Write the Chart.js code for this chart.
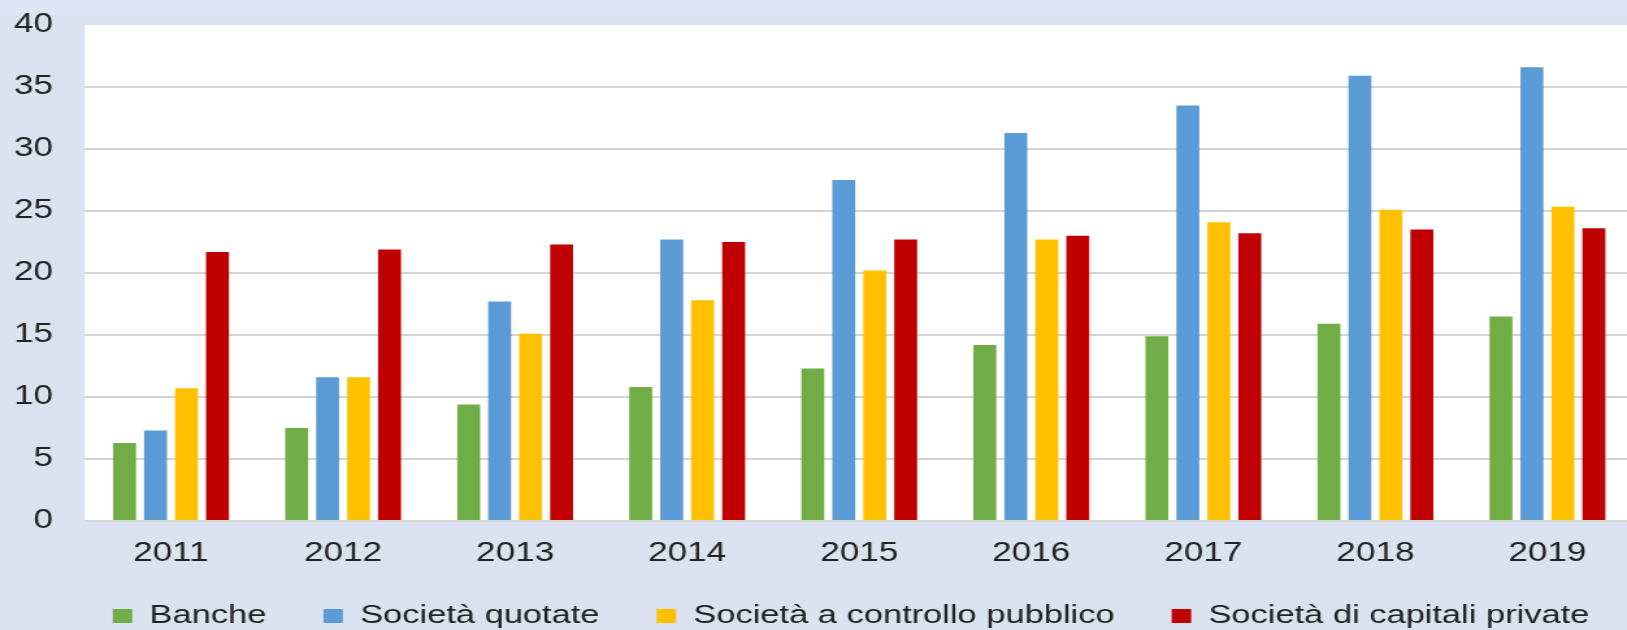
<!DOCTYPE html>
<html><head><meta charset="utf-8">
<script src="https://cdn.jsdelivr.net/npm/chart.js@4/dist/chart.umd.min.js"></script>
<style>
html,body{margin:0;padding:0;background:#dae2f0;overflow:hidden;width:1627px;height:630px;}
#wrap{width:1257px;height:630px;transform:scaleX(1.2995);transform-origin:0 0;}
canvas{display:block;}
</style></head><body>
<div id="wrap"><canvas id="c" width="1257" height="630"></canvas></div>
<script>
const years = ['2011','2012','2013','2014','2015','2016','2017','2018','2019'];
const banche = [6.3, 7.5, 9.4, 10.8, 12.3, 14.2, 14.9, 15.9, 16.5];
const quotate = [7.3, 11.6, 17.7, 22.7, 27.5, 31.3, 33.5, 35.9, 36.6];
const pubblico = [10.7, 11.6, 15.1, 17.8, 20.2, 22.7, 24.1, 25.1, 25.35];
const private_ = [21.7, 21.9, 22.3, 22.5, 22.7, 23.0, 23.2, 23.5, 23.6];
const seriesNames = ['Banche','Società quotate','Società a controllo pubblico','Società di capitali private'];
const colors = ['#70ad47','#5b9bd5','#ffc000','#c00000'];
const yTicks = [0,5,10,15,20,25,30,35,40];

const FONT = '"Liberation Sans", Arial, sans-serif';

const bgPlugin = {
  id:'bg',
  beforeDraw(chart){
    const {ctx, chartArea:a, width, height} = chart;
    ctx.save();
    ctx.fillStyle = '#dae2f0';
    ctx.fillRect(0,0,width,height);
    ctx.fillStyle = '#dfe3f4';
    ctx.fillRect(0,0,width,16);
    ctx.fillStyle = '#ffffff';
    ctx.fillRect(a.left, a.top, width - a.left, a.bottom - a.top);
    ctx.restore();
  }
};
const legendFix = {
  id:'legendFix',
  beforeLayout(chart){
    const lg = chart.legend;
    if (lg && !lg._patched){
      const f = lg.fit.bind(lg);
      lg.fit = function(){ f(); this.height = 60.8; };
      lg._patched = true;
    }
  },
  afterLayout(chart){
    const lg = chart.legend;
    if (lg){
      lg.left += 21; lg.right += 21;
      lg.top = 558.75; lg.bottom = 630; lg.height = lg.bottom - lg.top;
    }
  }
};

const datasets = [banche, quotate, pubblico, private_].map((d,i)=>({
  label: seriesNames[i], data: d, backgroundColor: colors[i], borderWidth: 0,
  categoryPercentage: 0.72, barPercentage: 0.74
}));

new Chart(document.getElementById('c'), {
  type:'bar',
  data:{ labels: years, datasets },
  plugins:[bgPlugin, legendFix],
  options:{
    responsive:false, animation:false, devicePixelRatio:1,
    layout:{ padding:{ left:10.8, top:25, right:0, bottom:0 } },
    plugins:{
      tooltip:{enabled:false},
      legend:{
        position:'bottom',
        labels:{ boxWidth:15, boxHeight:14, padding:44, color:'#222',
          font:{ family:FONT, size:26.5 } }
      }
    },
    scales:{
      x:{
        grid:{ display:false }, border:{ display:false },
        ticks:{ color:'#222', padding:8.8, font:{ family:FONT, size:27 } },
        afterFit(s){ s.paddingLeft = 0; s.paddingRight = 0; s.height = 48.2; }
      },
      y:{
        min:0, max:40,
        afterBuildTicks(scale){ scale.ticks = yTicks.map(v=>({value:v})); },
        grid:{ drawTicks:false, lineWidth:2,
          color:(c)=> c.tick && c.tick.value===40 ? 'rgba(0,0,0,0)' : '#d4d4d4' },
        border:{ display:false },
        ticks:{ color:'#222', padding:24.6, font:{ family:FONT, size:27 } },
        afterFit(s){ s.paddingTop = 0; s.paddingBottom = 0; s.width = 54.6; }
      }
    }
  }
});
</script>
</body></html>
